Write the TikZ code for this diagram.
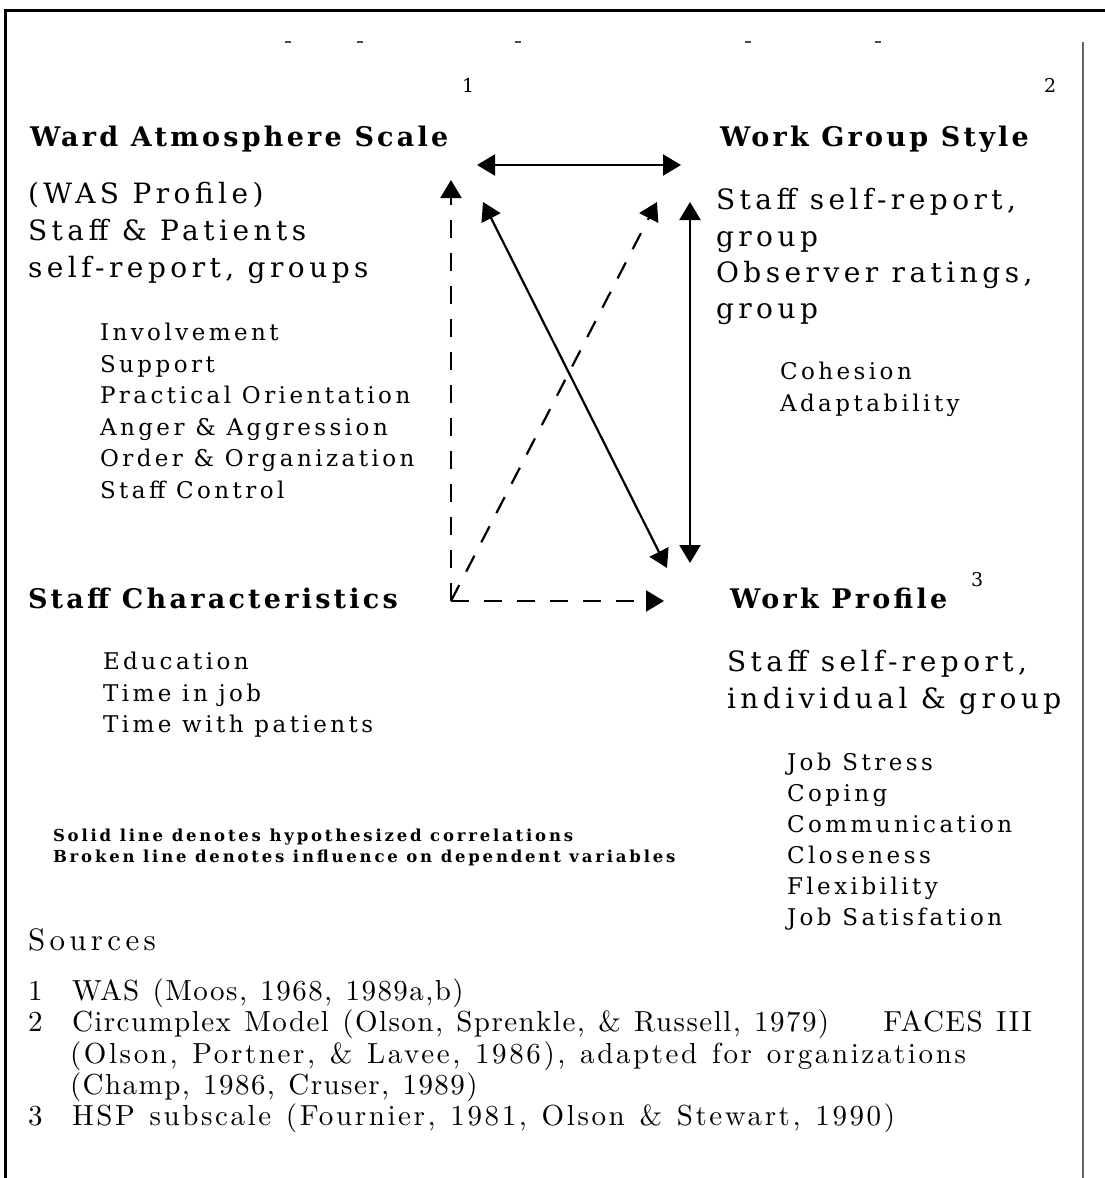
\documentclass[tikz,border=0pt]{standalone}
\usepackage{fontspec}
\usetikzlibrary{arrows.meta}
\newfontfamily\headfont[LetterSpace=12]{DejaVu Serif}
\newfontfamily\bodyfont[LetterSpace=16]{DejaVu Serif}
\newfontfamily\listfont[LetterSpace=15]{DejaVu Serif}
\newfontfamily\legfont[LetterSpace=17]{DejaVu Serif}
\newfontfamily\srcfont[LetterSpace=9, WordSpace=1.2]{lmroman10-regular.otf}
\newfontfamily\srcnarrowfont[LetterSpace=5, WordSpace=1.2]{lmroman10-regular.otf}
\newfontfamily\srcheadfont[LetterSpace=14]{lmroman10-regular.otf}
\tikzset{
  txt/.style={inner sep=0pt, outer sep=0pt, anchor=base west},
  head/.style={txt, font=\headfont\bfseries\fontsize{27}{30}\selectfont},
  body/.style={txt, font=\bodyfont\fontsize{28}{30}\selectfont},
  item/.style={txt, font=\listfont\fontsize{23}{25}\selectfont},
  legend/.style={txt, font=\legfont\bfseries\fontsize{16.5}{18}\selectfont},
  num/.style={txt, font=\bodyfont\fontsize{19}{20}\selectfont},
  src/.style={txt, font=\srcfont\fontsize{29}{30}\selectfont},
  srcn/.style={txt, font=\srcnarrowfont\fontsize{29}{30}\selectfont},
  srchead/.style={txt, font=\srcheadfont\fontsize{31}{32}\selectfont},
  frameline/.style={line width=3pt, black},
  tip/.tip={Triangle[length=18pt,width=21pt]},
  solidarr/.style={line width=2.2pt, tip-tip},
  dasharr/.style={line width=2.2pt, dash pattern=on 18pt off 15pt, -tip},
  speck/.style={line width=2pt, black!70}
}
\begin{document}
\begin{tikzpicture}[x=1pt, y=-1pt]
\useasboundingbox (0,0) rectangle (1105,1178);
% frame
\draw[frameline] (5,1178) -- (5,10) -- (1105,10);
\draw[line width=2pt, black!60] (1083,42) -- (1083,1178);
% scan specks
\foreach \sx in {288,360,518,748,878} \draw[speck] (\sx-3,42) -- (\sx+3,42);

% reference numbers
\node[num] (r1) at (462,92) {1};
\node[num] (r2) at (1044,92) {2};

% Ward Atmosphere Scale block
\node[head] (was) at (30,146) {Ward Atmosphere Scale};
\node[body] (was1) at (28,203) {(WAS Profile)};
\node[body] (was2) at (28,240) {Staff \& Patients};
\node[body] (was3) at (28,277) {self-report, groups};
\node[item] (w1) at (100,340.5) {Involvement};
\node[item] (w2) at (100,372) {Support};
\node[item] (w3) at (100,403.5) {Practical Orientation};
\node[item] (w4) at (100,435) {Anger \& Aggression};
\node[item] (w5) at (100,466.5) {Order \& Organization};
\node[item] (w6) at (100,498) {Staff Control};

% Work Group Style block
\node[head] (wgs) at (720,146) {Work Group Style};
\node[body] (wgs1) at (716,209) {Staff self-report,};
\node[body] (wgs2) at (716,246) {group};
\node[body] (wgs3) at (716,282) {Observer ratings,};
\node[body] (wgs4) at (716,318) {group};
\node[item] (g1) at (780,379.5) {Cohesion};
\node[item] (g2) at (780,411) {Adaptability};

% Staff Characteristics block
\node[head] (sc) at (28,608) {Staff Characteristics};
\node[item] (s1) at (103,669.5) {Education};
\node[item] (s2) at (103,701) {Time in job};
\node[item] (s3) at (103,732.5) {Time with patients};

% Work Profile block
\node[head] (wp) at (730,608) {Work Profile};
\node[num] (r3) at (971,586) {3};
\node[body] (wp1) at (727,671) {Staff self-report,};
\node[body] (wp2) at (727,708) {individual \& group};
\node[item] (p1) at (787,770.5) {Job Stress};
\node[item] (p2) at (787,801.5) {Coping};
\node[item] (p3) at (787,832.5) {Communication};
\node[item] (p4) at (787,863.5) {Closeness};
\node[item] (p5) at (787,894.5) {Flexibility};
\node[item] (p6) at (787,925.5) {Job Satisfation};

% legend
\node[legend] (l1) at (53,841.5) {Solid line denotes hypothesized correlations};
\node[legend] (l2) at (53,862.5) {Broken line denotes influence on dependent variables};

% sources
\node[srchead] (srch) at (28,950) {Sources};
\node[src] (n1) at (28,1000) {1};
\node[srcn] (src1) at (72,1000) {WAS (Moos, 1968, 1989a,b)};
\node[src] (n2) at (28,1031) {2};
\node[srcn] (src2) at (72,1031) {Circumplex Model (Olson, Sprenkle, \& Russell, 1979)};
\node[srcn, anchor=base east] (src2b) at (1032,1031) {FACES III};
\node[src] (src2c) at (70,1063) {(Olson, Portner, \& Lavee, 1986), adapted for organizations};
\node[srcn] (src2d) at (70,1094) {(Champ, 1986, Cruser, 1989)};
\node[src] (n3) at (28,1125) {3};
\node[src] (src3) at (72,1125) {HSP subscale (Fournier, 1981, Olson \& Stewart, 1990)};

% arrow end points
\coordinate (C) at (451,601);
\coordinate (hA) at (477,165);
\coordinate (hB) at (681,165);
\coordinate (vT) at (451,180);
\coordinate (dsT) at (483,202);
\coordinate (dsB) at (667,568);
\coordinate (ddT) at (657,202);
\coordinate (rvT) at (690,202);
\coordinate (rvB) at (690,563);
\coordinate (hdB) at (664,601);

% solid (correlations)
\draw[solidarr] (hA) -- (hB);
\draw[solidarr] (dsT) -- (dsB);
\draw[solidarr] (rvT) -- (rvB);
% broken (influence)
\draw[dasharr] (C) -- (vT);
\draw[dasharr] (C) -- (ddT);
\draw[dasharr] (C) -- (hdB);
\end{tikzpicture}
\end{document}
